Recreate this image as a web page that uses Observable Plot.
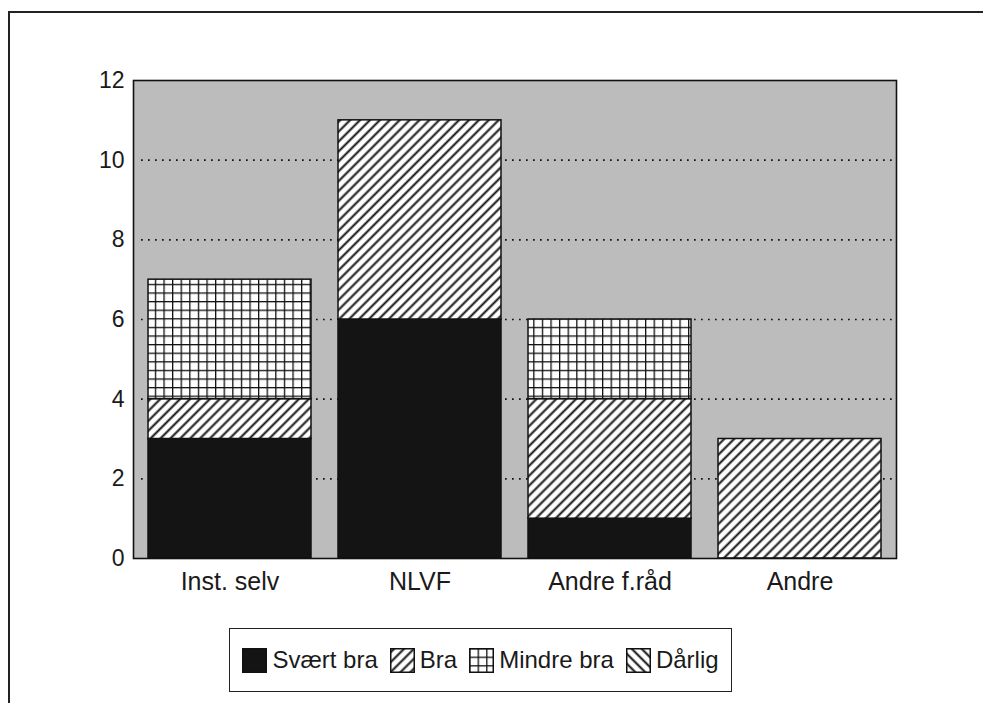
<!DOCTYPE html>
<html>
<head>
<meta charset="utf-8">
<script src="https://cdn.jsdelivr.net/npm/d3@7"></script>
<script src="https://cdn.jsdelivr.net/npm/@observablehq/plot@0.6"></script>
<style>
  html, body { margin: 0; padding: 0; background: #fff; width: 983px; height: 703px; overflow: hidden; }
  body { font-family: "Liberation Sans", Arial, Helvetica, sans-serif; color: #1a1a1a; position: relative; }
  #outer { position: absolute; left: 8px; top: 11px; width: 990px; height: 720px; border-top: 2.5px solid #222; border-left: 2.5px solid #222; box-sizing: border-box; }
  #chart { position: absolute; left: 0; top: 0; }
  #legend { position: absolute; left: 229px; top: 628px; width: 503px; height: 64px; border: 1.5px solid #222; box-sizing: border-box; display: flex; align-items: center; justify-content: center; font-size: 24px; }
  .item { display: flex; align-items: center; margin: 0 6px; }
  .item svg { margin-right: 5px; }
</style>
</head>
<body>
<div id="outer"></div>
<div id="chart"></div>
<div id="legend"></div>
<script>
const categories = ["Inst. selv", "NLVF", "Andre f.råd", "Andre"];
const ratings = ["Svært bra", "Bra", "Mindre bra", "Dårlig"];
const sværtBra = [3, 6, 1, 0];
const bra = [1, 5, 3, 3];
const mindreBra = [3, 0, 2, 0];
const dårlig = [0, 0, 0, 0];
const yTicks = [0, 2, 4, 6, 8, 10, 12];
const gridTicks = [2, 4, 6, 8, 10];

const seriesValues = [sværtBra, bra, mindreBra, dårlig];
const fills = ["#141414", "url(#pBra)", "url(#pMindre)", "url(#pDarlig)"];

const rows = [];
categories.forEach((cat, i) => {
  ratings.forEach((r, j) => {
    rows.push({cat, rating: r, value: seriesValues[j][i]});
  });
});

const chart = Plot.plot({
  width: 983,
  height: 620,
  marginTop: 80,
  marginLeft: 133,
  marginRight: 87,
  marginBottom: 62,
  style: {fontFamily: '"Liberation Sans", Arial, Helvetica, sans-serif', color: "#1a1a1a", background: "transparent"},
  x: {domain: categories, paddingInner: 0.14, paddingOuter: 0.07, axis: null, label: null},
  y: {domain: [0, 12], axis: null, label: null},
  color: {domain: ratings, range: fills},
  marks: [
    Plot.frame({fill: "url(#pStipple)", stroke: "none"}),
    Plot.gridY(gridTicks, {stroke: "#111", strokeOpacity: 1, strokeWidth: 1.7, strokeDasharray: "1.7,5.3", insetLeft: 8}),
    Plot.barY(rows.filter(d => d.value > 0), Plot.stackY({x: "cat", y: "value", fill: "rating", order: ratings, stroke: "#111", strokeWidth: 1.5})),
    Plot.frame({stroke: "#111", strokeWidth: 1.6}),
    Plot.axisY({ticks: yTicks, tickSize: 0, tickPadding: 9, fontSize: 23, label: null}),
    Plot.axisX({tickSize: 0, tickPadding: 14, fontSize: 25, label: null})
  ]
});

// patterns
const defs = d3.select(chart).insert("defs", ":first-child");
const st = defs.append("pattern").attr("id", "pStipple").attr("patternUnits", "userSpaceOnUse").attr("width", 2).attr("height", 2);
st.append("rect").attr("width", 2).attr("height", 2).attr("fill", "#d4d4d4");
st.append("rect").attr("x", 0).attr("y", 0).attr("width", 1).attr("height", 1).attr("fill", "#a4a4a4");
st.append("rect").attr("x", 1).attr("y", 1).attr("width", 1).attr("height", 1).attr("fill", "#a4a4a4");

function hatch(id, angle) {
  const p = defs.append("pattern").attr("id", id).attr("patternUnits", "userSpaceOnUse")
    .attr("width", 7).attr("height", 7).attr("patternTransform", `rotate(${angle})`);
  p.append("rect").attr("width", 7).attr("height", 7).attr("fill", "#fff");
  p.append("line").attr("x1", 3.5).attr("x2", 3.5).attr("y1", -1).attr("y2", 8).attr("stroke", "#111").attr("stroke-width", 2);
}
hatch("pBra", 45);
hatch("pDarlig", -45);
const g = defs.append("pattern").attr("id", "pMindre").attr("patternUnits", "userSpaceOnUse").attr("width", 8.6).attr("height", 8.6);
g.append("rect").attr("width", 8.6).attr("height", 8.6).attr("fill", "#fff");
g.append("line").attr("x1", 0.6).attr("x2", 0.6).attr("y1", 0).attr("y2", 8.6).attr("stroke", "#111").attr("stroke-width", 1.4);
g.append("line").attr("y1", 0.6).attr("y2", 0.6).attr("x1", 0).attr("x2", 8.6).attr("stroke", "#111").attr("stroke-width", 1.4);

document.getElementById("chart").appendChild(chart);

// legend
const legend = d3.select("#legend");
ratings.forEach((r, j) => {
  const item = legend.append("div").attr("class", "item");
  const s = item.append("svg").attr("width", 25).attr("height", 25);
  s.append("rect").attr("x", 0.75).attr("y", 0.75).attr("width", 23.5).attr("height", 23.5)
    .attr("fill", fills[j]).attr("stroke", "#111").attr("stroke-width", 1.5);
  item.append("span").text(r);
});
</script>
</body>
</html>
